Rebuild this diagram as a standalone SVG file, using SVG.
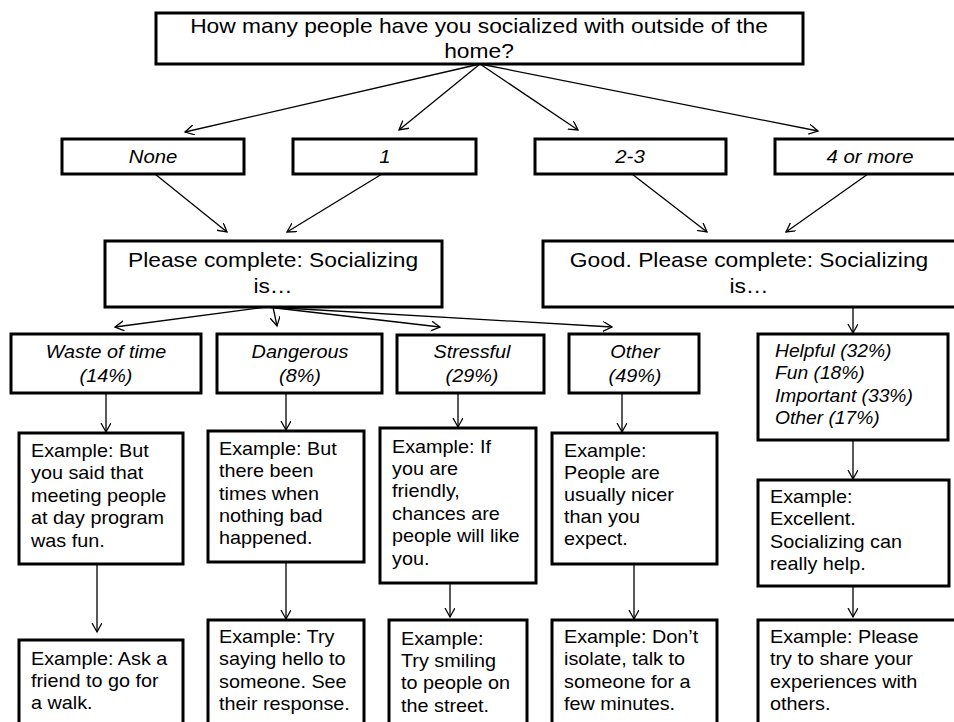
<svg xmlns="http://www.w3.org/2000/svg" width="954" height="722" viewBox="0 0 954 722">
<style>
.box{fill:#fff;stroke:#000;stroke-width:3}
.c{fill:none;stroke:#000;stroke-width:1.3;marker-end:url(#ah)}
text{font-family:"Liberation Sans",Arial,sans-serif;fill:#000}
.h{font-size:20px;text-anchor:middle}
.i{font-size:18px;font-style:italic;text-anchor:middle}
.il{font-size:17.5px;font-style:italic}
.e{font-size:18px}
</style>
<defs>
<marker id="ah" markerUnits="userSpaceOnUse" markerWidth="12" markerHeight="12" refX="9" refY="5" orient="auto">
<path d="M0,0 L9,5 L0,10" fill="none" stroke="#000" stroke-width="1.3"/>
</marker>
</defs>
<g id="connectors">
<line class="c" x1="480" y1="64" x2="185" y2="132"/>
<line class="c" x1="480" y1="64" x2="399" y2="130"/>
<line class="c" x1="480" y1="64" x2="578" y2="130"/>
<line class="c" x1="480" y1="64" x2="818" y2="131"/>
<line class="c" x1="155" y1="174" x2="227" y2="232"/>
<line class="c" x1="382" y1="174" x2="287" y2="232"/>
<line class="c" x1="632" y1="174" x2="707" y2="232"/>
<line class="c" x1="868" y1="174" x2="786" y2="232"/>
<line class="c" x1="267" y1="307" x2="115" y2="327"/>
<line class="c" x1="273" y1="307" x2="277" y2="326"/>
<line class="c" x1="267" y1="307" x2="440" y2="327"/>
<line class="c" x1="267" y1="307" x2="612" y2="327"/>
<line class="c" x1="853" y1="307" x2="853" y2="333"/>
<line class="c" x1="106" y1="393" x2="106" y2="432"/>
<line class="c" x1="286" y1="393" x2="286" y2="430"/>
<line class="c" x1="458" y1="393" x2="458" y2="427"/>
<line class="c" x1="622" y1="393" x2="622" y2="432"/>
<line class="c" x1="853" y1="440" x2="853" y2="479"/>
<line class="c" x1="97" y1="564" x2="97" y2="632"/>
<line class="c" x1="286" y1="562" x2="286" y2="619"/>
<line class="c" x1="450" y1="583" x2="450" y2="617"/>
<line class="c" x1="634" y1="564" x2="634" y2="619"/>
<line class="c" x1="853" y1="586" x2="853" y2="617"/>
</g>
<g id="n-top">
<rect class="box" x="156" y="13" width="647" height="51"/>
<g transform="translate(479,0) scale(1.14,1)"><text class="h" x="0" y="33">How many people have you socialized with outside of the</text><text class="h" x="0" y="58">home?</text></g>
</g>
<g id="n-none">
<rect class="box" x="62" y="139" width="182" height="35"/>
<g transform="translate(153,0) scale(1.13,1)"><text class="i" x="0" y="163">None</text></g>
</g>
<g id="n-one">
<rect class="box" x="293" y="139" width="183" height="35"/>
<g transform="translate(385,0) scale(1.13,1)"><text class="i" x="0" y="163">1</text></g>
</g>
<g id="n-23">
<rect class="box" x="535" y="139" width="191" height="35"/>
<g transform="translate(630,0) scale(1.13,1)"><text class="i" x="0" y="163">2-3</text></g>
</g>
<g id="n-4more">
<rect class="box" x="775" y="139" width="190" height="35"/>
<g transform="translate(870,0) scale(1.13,1)"><text class="i" x="0" y="163">4 or more</text></g>
</g>
<g id="n-please">
<rect class="box" x="105" y="241" width="337" height="66"/>
<g transform="translate(273,0) scale(1.14,1)"><text class="h" x="0" y="267">Please complete: Socializing</text><text class="h" x="0" y="293">is…</text></g>
</g>
<g id="n-good">
<rect class="box" x="543" y="241" width="420" height="66"/>
<g transform="translate(749,0) scale(1.14,1)"><text class="h" x="0" y="267">Good. Please complete: Socializing</text><text class="h" x="0" y="293">is…</text></g>
</g>
<g id="n-waste">
<rect class="box" x="11" y="334" width="190" height="59"/>
<g transform="translate(106,0) scale(1.1,1)"><text class="i" x="0" y="358">Waste of time</text><text class="i" x="0" y="382">(14%)</text></g>
</g>
<g id="n-danger">
<rect class="box" x="217" y="334" width="165" height="59"/>
<g transform="translate(300,0) scale(1.1,1)"><text class="i" x="0" y="358">Dangerous</text><text class="i" x="0" y="382">(8%)</text></g>
</g>
<g id="n-stress">
<rect class="box" x="397" y="335" width="147" height="58"/>
<g transform="translate(472,0) scale(1.1,1)"><text class="i" x="0" y="358">Stressful</text><text class="i" x="0" y="382">(29%)</text></g>
</g>
<g id="n-other">
<rect class="box" x="569" y="334" width="130" height="59"/>
<g transform="translate(635,0) scale(1.1,1)"><text class="i" x="0" y="358">Other</text><text class="i" x="0" y="382">(49%)</text></g>
</g>
<g id="n-helpful">
<rect class="box" x="758" y="334" width="190" height="106"/>
<g transform="translate(775,0) scale(1.1,1)"><text class="il" x="0" y="357">Helpful (32%)</text><text class="il" x="0" y="379">Fun (18%)</text><text class="il" x="0" y="402">Important (33%)</text><text class="il" x="0" y="424">Other (17%)</text></g>
</g>
<g id="n-waste-ex1">
<rect class="box" x="19" y="433" width="164" height="131"/>
<g transform="translate(31,0) scale(1.1,1)"><text class="e" x="0" y="457">Example: But</text><text class="e" x="0" y="479.5">you said that</text><text class="e" x="0" y="502">meeting people</text><text class="e" x="0" y="524.5">at day program</text><text class="e" x="0" y="547">was fun.</text></g>
</g>
<g id="n-waste-ex2">
<rect class="box" x="19" y="640" width="164" height="95"/>
<g transform="translate(31,0) scale(1.1,1)"><text class="e" x="0" y="665">Example: Ask a</text><text class="e" x="0" y="687">friend to go for</text><text class="e" x="0" y="709">a walk.</text></g>
</g>
<g id="n-danger-ex1">
<rect class="box" x="208" y="431" width="156" height="131"/>
<g transform="translate(219,0) scale(1.1,1)"><text class="e" x="0" y="455">Example: But</text><text class="e" x="0" y="477">there been</text><text class="e" x="0" y="500">times when</text><text class="e" x="0" y="522">nothing bad</text><text class="e" x="0" y="544">happened.</text></g>
</g>
<g id="n-danger-ex2">
<rect class="box" x="208" y="620" width="156" height="115"/>
<g transform="translate(219,0) scale(1.1,1)"><text class="e" x="0" y="643">Example: Try</text><text class="e" x="0" y="665">saying hello to</text><text class="e" x="0" y="688">someone. See</text><text class="e" x="0" y="710">their response.</text></g>
</g>
<g id="n-stress-ex1">
<rect class="box" x="380" y="428" width="156" height="155"/>
<g transform="translate(392,0) scale(1.1,1)"><text class="e" x="0" y="453">Example: If</text><text class="e" x="0" y="475">you are</text><text class="e" x="0" y="497">friendly,</text><text class="e" x="0" y="520">chances are</text><text class="e" x="0" y="542">people will like</text><text class="e" x="0" y="565">you.</text></g>
</g>
<g id="n-stress-ex2">
<rect class="box" x="389" y="620" width="138" height="115"/>
<g transform="translate(401,0) scale(1.1,1)"><text class="e" x="0" y="645">Example:</text><text class="e" x="0" y="667">Try smiling</text><text class="e" x="0" y="689">to people on</text><text class="e" x="0" y="712">the street.</text></g>
</g>
<g id="n-other-ex1">
<rect class="box" x="552" y="433" width="165" height="131"/>
<g transform="translate(564,0) scale(1.1,1)"><text class="e" x="0" y="457">Example:</text><text class="e" x="0" y="479">People are</text><text class="e" x="0" y="501">usually nicer</text><text class="e" x="0" y="523">than you</text><text class="e" x="0" y="545">expect.</text></g>
</g>
<g id="n-other-ex2">
<rect class="box" x="552" y="620" width="165" height="115"/>
<g transform="translate(564,0) scale(1.1,1)"><text class="e" x="0" y="643">Example: Don’t</text><text class="e" x="0" y="665">isolate, talk to</text><text class="e" x="0" y="688">someone for a</text><text class="e" x="0" y="710">few minutes.</text></g>
</g>
<g id="n-helpful-ex1">
<rect class="box" x="758" y="480" width="191" height="106"/>
<g transform="translate(770,0) scale(1.1,1)"><text class="e" x="0" y="503">Example:</text><text class="e" x="0" y="525">Excellent.</text><text class="e" x="0" y="548">Socializing can</text><text class="e" x="0" y="570">really help.</text></g>
</g>
<g id="n-helpful-ex2">
<rect class="box" x="758" y="620" width="205" height="115"/>
<g transform="translate(770,0) scale(1.1,1)"><text class="e" x="0" y="643">Example: Please</text><text class="e" x="0" y="665">try to share your</text><text class="e" x="0" y="688">experiences with</text><text class="e" x="0" y="710">others.</text></g>
</g>
</svg>
